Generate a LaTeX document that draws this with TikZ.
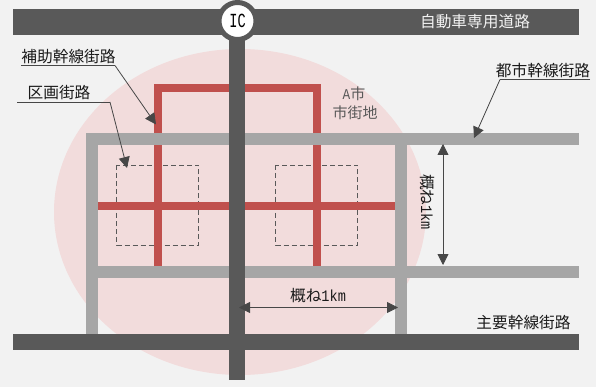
\documentclass[tikz,border=0pt]{standalone}
\usepackage{fontspec}
\setmainfont{Noto Sans CJK JP}
\newfontfamily\halffont[FakeStretch=.85]{Liberation Mono}
\newfontfamily\icfont[FakeStretch=.68]{Liberation Mono}
\usetikzlibrary{arrows.meta}
\definecolor{bgpaper}{HTML}{F2F2F2}
\definecolor{cityarea}{HTML}{F2DCDC}
\definecolor{darkroad}{HTML}{595959}
\definecolor{grayroad}{HTML}{A6A6A6}
\definecolor{redroad}{HTML}{C0504D}
\definecolor{inktext}{HTML}{1A1A1A}
\newcommand{\onekm}{概ね{\halffont\fontsize{16}{16}\selectfont 1km}}
\tikzset{
  express/.style={line width=26pt,darkroad},
  mainroad/.style={line width=16pt,darkroad},
  cityroad/.style={line width=11.5pt,grayroad},
  subroad/.style={line width=8pt,redroad},
  block/.style={dash pattern=on 5pt off 3pt,line width=.8pt,darkroad},
  leader/.style={line width=.8pt,darkroad!80!black,-{Triangle[length=11pt,width=11pt]}},
  span/.style={line width=.8pt,darkroad!80!black,{Triangle[length=11pt,width=11pt]}-{Triangle[length=11pt,width=11pt]}},
  rule/.style={line width=.8pt,darkroad!80!black},
  lbl/.style={inner sep=0pt,font=\fontsize{15.7}{16}\selectfont,text=inktext},
}
\begin{document}
\begin{tikzpicture}[x=1pt,y=-1pt]
  \fill[bgpaper] (0,0) rectangle (596,387);
  \useasboundingbox (0,0) rectangle (596,387);
  \fill[cityarea] (240,212) ellipse [x radius=186,y radius=163];
  \draw
    (13,22) coordinate (topw)
    (579,22) coordinate (tope)
    (13,342) coordinate (mainw)
    (579,342) coordinate (maine)
    (237,21) coordinate (vtop)
    (237,380) coordinate (vbot)
    (86,139) coordinate (citynw)
    (579,139) coordinate (citye)
    (92,334) coordinate (cityw)
    (97,272) coordinate (lowerw)
    (579,272) coordinate (lowere)
    (401,145) coordinate (midn)
    (401,334) coordinate (mids)
    (158,266) coordinate (reda)
    (158,88) coordinate (redb)
    (317,88) coordinate (redc)
    (317,266) coordinate (redd)
    (97,206) coordinate (crossw)
    (395,206) coordinate (crosse);
  % blocks
  \draw[block] (116.5,165) rectangle (198,245);
  \draw[block] (275.5,165) rectangle (357,245);
  \begin{scope}[line cap=butt]
    \draw[subroad] (reda) -- (redb) -- (redc) -- (redd);
    \draw[subroad] (crossw) -- (crosse);
    \draw[cityroad] (cityw) -- (92,139) -- (citye);
    \draw[cityroad] (lowerw) -- (lowere);
    \draw[cityroad] (midn) -- (mids);
    \draw[express] (topw) -- (tope);
    \draw[mainroad] (mainw) -- (maine);
    \draw[mainroad] (vtop) -- (vbot);
  \end{scope}
  \draw (237.5,21) node (ic) [circle,fill=white,draw=darkroad,line width=5pt,minimum size=37pt,inner sep=0pt,font=\icfont\fontsize{20}{20}\selectfont] {IC};
  % labels
  \draw
    (475,22) node (expresslbl) [lbl,text=bgpaper] {自動車専用道路}
    (68.5,57) node (subroadlbl) [lbl] {補助幹線街路}
    (59,93) node (blocklbl) [lbl] {区画街路}
    (543,71) node (citylbl) [lbl] {都市幹線街路}
    (523.5,323) node (mainlbl) [lbl] {主要幹線街路}
    (354,94) node (cityname) [lbl,text=darkroad,font=\fontsize{15}{16}\selectfont] {{\halffont A}市}
    (355,113) node (cityarealbl) [lbl,text=darkroad,font=\fontsize{15}{16}\selectfont] {市街地}
    (318,296) node (hspanlbl) [lbl] {\onekm}
    (427,202) node (vspanlbl) [lbl,rotate=-90] {\onekm};
  \draw
    (21,65.5) coordinate (sr0)
    (115,65.5) coordinate (sr1)
    (156,124.5) coordinate (sr2)
    (17,102) coordinate (bl0)
    (110,102) coordinate (bl1)
    (127,168) coordinate (bl2)
    (590,79.5) coordinate (ct0)
    (500,79.5) coordinate (ct1)
    (474,138) coordinate (ct2)
    (443,144) coordinate (vs0)
    (443,265) coordinate (vs1)
    (239,307.5) coordinate (hs0)
    (398,307.5) coordinate (hs1);
  \begin{scope}[-]
    \draw[rule] (sr0) to (sr1);
    \draw[rule] (bl0) to (bl1);
    \draw[rule] (ct0) to (ct1);
  \end{scope}
  \draw[leader] (sr1) to (sr2);
  \draw[leader] (bl1) to (bl2);
  \draw[leader] (ct1) to (ct2);
  \draw[span] (vs0) to (vs1);
  \draw[span] (hs0) to (hs1);
\end{tikzpicture}
\end{document}
